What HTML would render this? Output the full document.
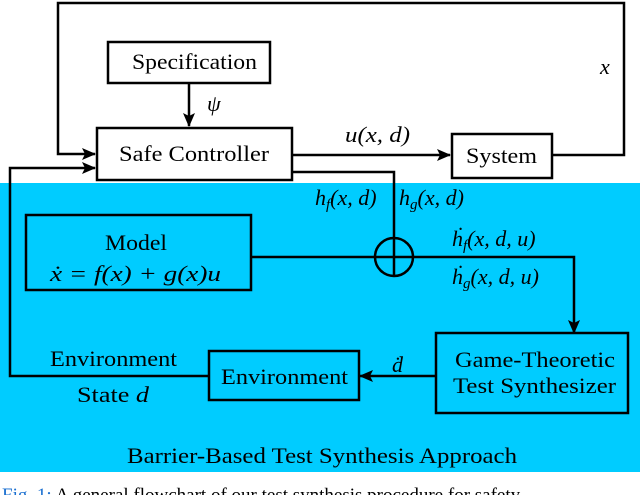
<!DOCTYPE html>
<html><head><style>body{margin:0;background:#fff}svg{display:block}</style></head><body>
<svg width="640" height="495" xmlns="http://www.w3.org/2000/svg" font-family="'Liberation Serif',serif" font-size="22">
<defs><marker id="a" markerWidth="14" markerHeight="12" refX="13" refY="6" orient="auto" markerUnits="userSpaceOnUse"><path d="M0,0 L14,6 L0,12 L3,6 Z" fill="#000"/></marker></defs>
<rect x="0" y="183" width="640" height="289" fill="#00CCFF"/>
<g fill="none" stroke="#000" stroke-width="2.5">
<polyline points="552,155 624,155 624,3 58,3 58,154 95,154" marker-end="url(#a)"/>
<line x1="189" y1="83" x2="189" y2="126" marker-end="url(#a)"/>
<line x1="292" y1="155" x2="450" y2="155" marker-end="url(#a)"/>
<polyline points="292,172 394,172 394,276"/>
<polyline points="250,257 574,257 574,333" marker-end="url(#a)"/>
<circle cx="394" cy="257" r="19"/>
<line x1="435" y1="376" x2="360" y2="376" marker-end="url(#a)"/>
<polyline points="208,376 10,376 10,168 95,168" marker-end="url(#a)"/>
<rect x="108" y="42" width="162" height="41" fill="#fff"/>
<rect x="97" y="128" width="195" height="52" fill="#fff"/>
<rect x="452" y="134" width="100" height="44" fill="#fff"/>
<rect x="26" y="215" width="225" height="75"/>
<rect x="436" y="333" width="192" height="80"/>
<rect x="209" y="351" width="150" height="49"/>
</g>
<g>
<text x="132" y="69" textLength="125" lengthAdjust="spacingAndGlyphs">Specification</text>
<text x="119" y="161" textLength="150" lengthAdjust="spacingAndGlyphs">Safe Controller</text>
<text x="466" y="163" textLength="71" lengthAdjust="spacingAndGlyphs">System</text>
<text x="105" y="250" textLength="62" lengthAdjust="spacingAndGlyphs">Model</text>
<text x="50" y="281" font-style="italic" textLength="171" lengthAdjust="spacingAndGlyphs">ẋ = f(x) + g(x)u</text>
<text x="455" y="367" textLength="160" lengthAdjust="spacingAndGlyphs">Game-Theoretic</text>
<text x="453" y="393" textLength="163" lengthAdjust="spacingAndGlyphs">Test Synthesizer</text>
<text x="221" y="384" textLength="127" lengthAdjust="spacingAndGlyphs">Environment</text>
<text x="50" y="366" textLength="127" lengthAdjust="spacingAndGlyphs">Environment</text>
<text x="77" y="402" textLength="72" lengthAdjust="spacingAndGlyphs">State <tspan font-style="italic">d</tspan></text>
<text x="127" y="463" textLength="390" lengthAdjust="spacingAndGlyphs">Barrier-Based Test Synthesis Approach</text>
<text x="345" y="142" font-style="italic" textLength="65" lengthAdjust="spacingAndGlyphs">u(x, d)</text>
</g>
<g font-style="italic">
<text x="207" y="111">ψ</text>
<text x="600" y="74">x</text>
<text x="315" y="205">h<tspan font-size="15" dy="4">f</tspan><tspan dy="-4">(x, d)</tspan></text>
<text x="399" y="205">h<tspan font-size="15" dy="4">g</tspan><tspan dy="-4">(x, d)</tspan></text>
<text x="452" y="246">ḣ<tspan font-size="15" dy="4">f</tspan><tspan dy="-4">(x, d, u)</tspan></text>
<text x="452" y="284">ḣ<tspan font-size="15" dy="4">g</tspan><tspan dy="-4">(x, d, u)</tspan></text>
<text x="392" y="372">ḋ</text>
</g>
<text x="2" y="501" font-size="19" fill="#1a6fd0">Fig. 1:<tspan fill="#000"> A general flowchart of our test synthesis procedure for safety</tspan></text>
</svg>
</body></html>
